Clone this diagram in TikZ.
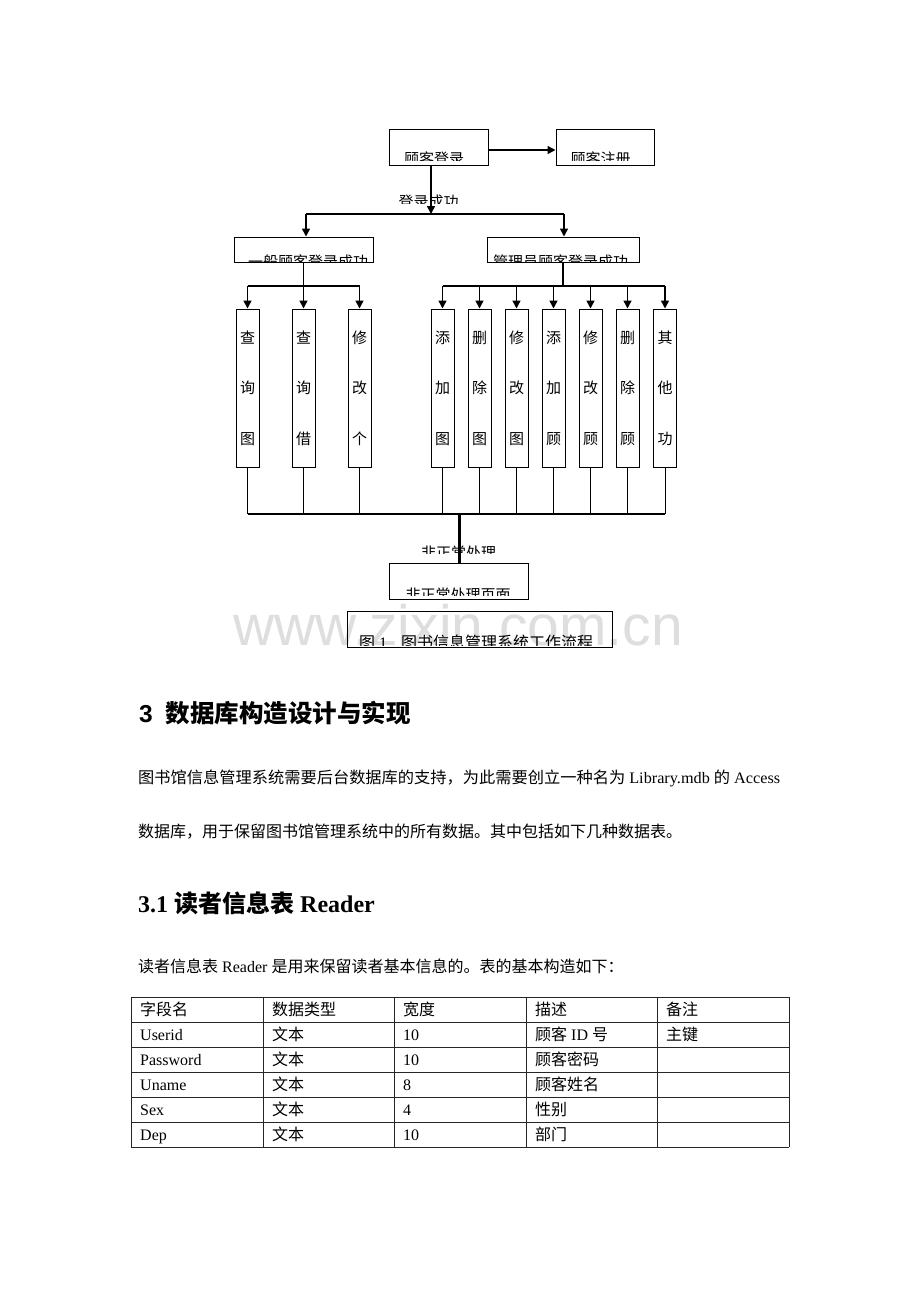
\documentclass[tikz,border=0pt]{standalone}
\usepackage{fontspec}
\usepackage{graphicx}
\setmainfont{Liberation Serif}
\newfontfamily\cjk{Noto Sans CJK SC}
\newfontfamily\arialf{Liberation Sans}
\usetikzlibrary{arrows.meta}
\begin{document}
\begin{tikzpicture}[x=1pt,y=-1pt,
 box/.style={draw, line width=1pt, inner sep=0pt},
 conn/.style={line width=1.5pt},
 thinl/.style={line width=0.9pt},
 arr/.style={line width=1.5pt, -{Triangle[length=8pt,width=8pt]}},
 lbl/.style={inner sep=0pt, anchor=base, font=\cjk\fontsize{15}{15}\selectfont},
 col/.style={draw, line width=1pt, inner sep=0pt, minimum width=23pt, minimum height=158pt, align=center, font=\cjk\fontsize{15}{50.5}\selectfont},
 body/.style={inner sep=0pt, anchor=base west, font=\fontsize{16}{16}\selectfont},
 cell/.style={inner sep=0pt, anchor=base west, font=\fontsize{16}{16}\selectfont},
 grid/.style={line width=0.8pt, black!85},
]
\fill[white] (0,0) rectangle (920,1302);
\useasboundingbox (0,0) rectangle (920,1302);

% watermark
\node[inner sep=0pt, anchor=base west, text=black!13, font=\arialf\fontsize{57}{57}\selectfont] (wm) at (233,645) {www.zixin.com.cn};

% boxes
\node[box, minimum width=99pt, minimum height=36pt] (login) at (438.5,147) {};
\node[box, minimum width=98pt, minimum height=36pt] (reg) at (605,147) {};
\node[box, minimum width=139pt, minimum height=25pt] (gen) at (303.5,249.5) {};
\node[box, minimum width=152pt, minimum height=25pt] (adm) at (563,249.5) {};
\node[box, minimum width=139pt, minimum height=36pt] (err) at (458.5,581) {};
\node[box, minimum width=265pt, minimum height=36pt] (cap) at (479.5,629) {};

% clipped texts
\begin{scope}\clip (390,140) rectangle (487,160);
\node[lbl] (logint) at (434,164.5) {顾客登录};\end{scope}
\begin{scope}\clip (557,140) rectangle (653,160);
\node[lbl] (regt) at (600.5,164.5) {顾客注册};\end{scope}
\begin{scope}\clip (380,185) rectangle (480,203);
\node[lbl] (okt) at (428.5,207.5) {登录成功};\end{scope}
\begin{scope}\clip (235,238) rectangle (372,262);
\node[lbl] (gent) at (308,267.5) {一般顾客登录成功};\end{scope}
\begin{scope}\clip (488,238) rectangle (638,262);
\node[lbl] (admt) at (560.5,267.5) {管理员顾客登录成功};\end{scope}
\begin{scope}\clip (400,535) rectangle (520,553);
\node[lbl] (errl) at (458.5,558.5) {非正常处理};\end{scope}
\begin{scope}\clip (390,564) rectangle (527,595);
\node[lbl] (errt) at (458,600.5) {非正常处理页面};\end{scope}
\begin{scope}\clip (348,612) rectangle (611,645);
\node[inner sep=0pt, anchor=base west, font=\fontsize{16}{16}\selectfont] (capt) at (359,648) {{\cjk 图}~1\hspace{14pt}{\cjk 图书信息管理系统工作流程}};\end{scope}

% column boxes
\node[col] (c1) at (247.5,388) {查\\询\\图};
\node[col] (c2) at (303.5,388) {查\\询\\借};
\node[col] (c3) at (359.5,388) {修\\改\\个};
\node[col] (d1) at (442.5,388) {添\\加\\图};
\node[col] (d2) at (479.5,388) {删\\除\\图};
\node[col] (d3) at (516.5,388) {修\\改\\图};
\node[col] (d4) at (553.5,388) {添\\加\\顾};
\node[col] (d5) at (590.5,388) {修\\改\\顾};
\node[col] (d6) at (627.5,388) {删\\除\\顾};
\node[col] (d7) at (665,388) {其\\他\\功};

% connectors
\coordinate (j1) at (431,214);
\coordinate (jl) at (306,214);
\coordinate (jr) at (564,214);
\coordinate (kl) at (303,286);
\coordinate (bl) at (459,514);
\draw[arr] ([yshift=-3pt]login.east) -- ([yshift=-3pt]reg.west);
\draw[arr] (login.south -| j1) -- (j1);
\draw[conn] (jl) -- (jr);
\draw[arr] (jl) -- (jl |- gen.north);
\draw[arr] (jr) -- (jr |- adm.north);
\draw[conn] (gen.south) -- (gen.south |- kl);
\draw[conn] (adm.south) -- (adm.south |- kl);
\draw[conn] (c1.north |- kl) -- (c3.north |- kl);
\draw[conn] (d1.north |- kl) -- (d7.north |- kl);
\foreach \n in {c1,c2,c3,d1,d2,d3,d4,d5,d6,d7}{
  \draw[arr] (\n.north |- kl) -- (\n.north);
  \draw[thinl] (\n.south) -- (\n.south |- bl);
}
\draw[conn] (c1.south |- bl) -- (d7.south |- bl);
\draw[line width=3pt] (bl) -- (bl |- err.north);

% section text
\node[inner sep=0pt, anchor=base west] (h1) at (139,722) {\arialf\bfseries\fontsize{24.5}{24.5}\selectfont 3\hspace{13pt}{\cjk\bfseries 数据库构造设计与实现}};
\node[body] (p1) at (138,783) {\resizebox{642pt}{\height}{{\cjk 图书馆信息管理系统需要后台数据库的支持，为此需要创立一种名为} Library.mdb {\cjk 的} Access}};
\node[body] (p2) at (138,837) {\cjk 数据库，用于保留图书馆管理系统中的所有数据。其中包括如下几种数据表。};
\node[inner sep=0pt, anchor=base west, font=\bfseries\fontsize{24}{24}\selectfont] (h2) at (138,912) {3.1 {\cjk\bfseries 读者信息表} Reader};
\node[body] (p3) at (138,972) {{\cjk 读者信息表} Reader {\cjk 是用来保留读者基本信息的。表的基本构造如下：}};

% table
\foreach \y in {997,1022,1047,1072,1097,1122,1147}{\draw[grid] (131,\y) -- (789,\y);}
\foreach \x in {131,263,394,526,657,789}{\draw[grid] (\x,997) -- (\x,1147);}

\node[cell] (t11) at (140,1015) {\cjk 字段名};
\node[cell] (t12) at (272,1015) {\cjk 数据类型};
\node[cell] (t13) at (403,1015) {\cjk 宽度};
\node[cell] (t14) at (535,1015) {\cjk 描述};
\node[cell] (t15) at (666,1015) {\cjk 备注};

\node[cell] (t21) at (140,1040) {Userid};
\node[cell] (t22) at (272,1040) {\cjk 文本};
\node[cell] (t23) at (403,1040) {10};
\node[cell] (t24) at (535,1040) {{\cjk 顾客} ID {\cjk 号}};
\node[cell] (t25) at (666,1040) {\cjk 主键};

\node[cell] (t31) at (140,1065) {Password};
\node[cell] (t32) at (272,1065) {\cjk 文本};
\node[cell] (t33) at (403,1065) {10};
\node[cell] (t34) at (535,1065) {\cjk 顾客密码};

\node[cell] (t41) at (140,1090) {Uname};
\node[cell] (t42) at (272,1090) {\cjk 文本};
\node[cell] (t43) at (403,1090) {8};
\node[cell] (t44) at (535,1090) {\cjk 顾客姓名};

\node[cell] (t51) at (140,1115) {Sex};
\node[cell] (t52) at (272,1115) {\cjk 文本};
\node[cell] (t53) at (403,1115) {4};
\node[cell] (t54) at (535,1115) {\cjk 性别};

\node[cell] (t61) at (140,1140) {Dep};
\node[cell] (t62) at (272,1140) {\cjk 文本};
\node[cell] (t63) at (403,1140) {10};
\node[cell] (t64) at (535,1140) {\cjk 部门};
\end{tikzpicture}
\end{document}
